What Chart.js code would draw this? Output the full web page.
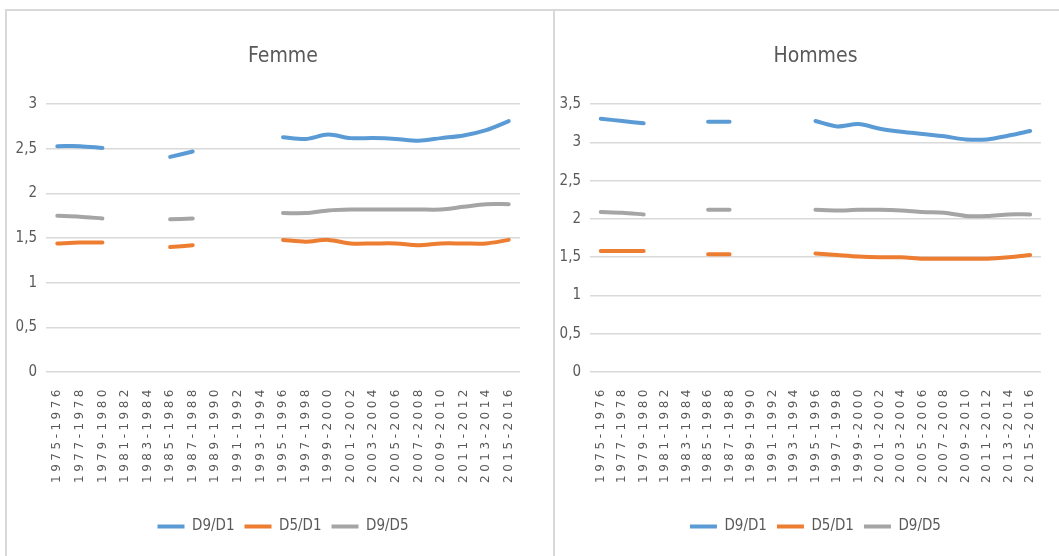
<!DOCTYPE html>
<html>
<head>
<meta charset="utf-8">
<script src="https://cdn.jsdelivr.net/npm/chart.js@4.4.1/dist/chart.umd.min.js"></script>
<style>
  body { margin: 0; background: #fff; width: 1059px; height: 556px; overflow: hidden; position: relative; }
  .panel { position: absolute; top: 9px; height: 560px; border-top: 2px solid #d9d9d9; }
  #pLeft { left: 5px; width: 546px; border-left: 2px solid #d9d9d9; border-right: 2px solid #d9d9d9; }
  #pRight { left: 553px; width: 520px; }
  canvas { display: block; }
</style>
</head>
<body>
<div class="panel" id="pLeft"><canvas id="femme" width="546" height="545"></canvas></div>
<div class="panel" id="pRight"><canvas id="hommes" width="506" height="545"></canvas></div>
<script>
// périodes
const categories = ['1975-1976', '1977-1978', '1979-1980', '1981-1982', '1983-1984', '1985-1986', '1987-1988',
  '1989-1990', '1991-1992', '1993-1994', '1995-1996', '1997-1998', '1999-2000', '2001-2002', '2003-2004',
  '2005-2006', '2007-2008', '2009-2010', '2011-2012', '2013-2014', '2015-2016'];
const seriesNames = ['D9/D1', 'D5/D1', 'D9/D5'];

// Femme
const femD9D1 = [2.53, 2.53, 2.51, null, null, 2.41, 2.47, null, null, null, 2.63, 2.61, 2.66, 2.62, 2.62, 2.61, 2.59, 2.62, 2.65, 2.71, 2.81];
const femD5D1 = [1.44, 1.45, 1.45, null, null, 1.40, 1.42, null, null, null, 1.48, 1.46, 1.48, 1.44, 1.44, 1.44, 1.42, 1.44, 1.44, 1.44, 1.48];
const femD9D5 = [1.75, 1.74, 1.72, null, null, 1.71, 1.72, null, null, null, 1.78, 1.78, 1.81, 1.82, 1.82, 1.82, 1.82, 1.82, 1.85, 1.88, 1.88];

// Hommes
const homD9D1 = [3.31, 3.28, 3.25, null, null, 3.27, 3.27, null, null, null, 3.28, 3.21, 3.24, 3.18, 3.14, 3.11, 3.08, 3.04, 3.04, 3.09, 3.15];
const homD5D1 = [1.58, 1.58, 1.58, null, null, 1.54, 1.54, null, null, null, 1.55, 1.53, 1.51, 1.50, 1.50, 1.48, 1.48, 1.48, 1.48, 1.50, 1.53];
const homD9D5 = [2.09, 2.08, 2.06, null, null, 2.12, 2.12, null, null, null, 2.12, 2.11, 2.12, 2.12, 2.11, 2.09, 2.08, 2.04, 2.04, 2.06, 2.06];

const colors = ['#5b9bd5', '#ed7d31', '#a5a5a5'];
const narrow = "'Liberation Sans Narrow', 'DejaVu Sans Condensed', 'Roboto', sans-serif";
const textColor = '#595959';

// espacement des lettres pour les étiquettes de l'axe X
const spacedTicks = {
  id: 'spacedTicks',
  beforeDraw(chart) {
    const sc = chart.scales.x;
    if (sc._spaced) return;
    const orig = sc.drawLabels.bind(sc);
    sc.drawLabels = function (area) {
      chart.ctx.save();
      chart.ctx.letterSpacing = '3.5px';
      orig(area);
      chart.ctx.restore();
    };
    sc._spaced = true;
  }
};

function makeChart(id, title, data, yMax, padRight, yWidth) {
  return new Chart(document.getElementById(id), {
    type: 'line',
    data: {
      labels: categories,
      datasets: data.map((values, i) => ({
        label: seriesNames[i],
        data: values,
        borderColor: colors[i],
        backgroundColor: colors[i],
        borderWidth: 4,
        borderCapStyle: 'round',
        pointRadius: 0,
        tension: 0.3,
        spanGaps: false
      }))
    },
    options: {
      responsive: false,
      animation: false,
      layout: { padding: { left: 0, right: padRight, top: 0, bottom: 12 } },
      plugins: {
        title: {
          display: true,
          fullSize: false,
          text: title,
          color: textColor,
          font: { family: narrow, size: 21, weight: 'normal' },
          padding: { top: 33, bottom: 35 }
        },
        legend: {
          position: 'bottom',
          fullSize: false,
          labels: {
            color: textColor,
            font: { family: narrow, size: 15 },
            usePointStyle: true,
            pointStyle: 'line',
            pointStyleWidth: 27,
            boxHeight: 4,
            padding: 10
          }
        },
        tooltip: { enabled: false }
      },
      scales: {
        x: {
          offset: true,
          grid: { display: false, drawTicks: false },
          border: { display: false },
          ticks: {
            color: textColor,
            font: { family: "'DejaVu Sans'", size: 12 },
            minRotation: 90,
            maxRotation: 90,
            autoSkip: false,
            padding: 14
          },
          afterFit(scale) { scale.height = 137; }
        },
        y: {
          min: 0,
          max: yMax,
          grid: { color: '#d9d9d9', lineWidth: 1.5, drawTicks: false },
          border: { display: false },
          ticks: {
            stepSize: 0.5,
            color: textColor,
            font: { family: narrow, size: 15 },
            padding: 9,
            callback: v => String(v).replace('.', ',')
          },
          afterFit(scale) { scale.width = yWidth; }
        }
      }
    },
    plugins: [spacedTicks]
  });
}

makeChart('femme', 'Femme', [femD9D1, femD5D1, femD9D5], 3, 33, 39);
makeChart('hommes', 'Hommes', [homD9D1, homD5D1, homD9D5], 3.5, 4, 37);
</script>
</body>
</html>
